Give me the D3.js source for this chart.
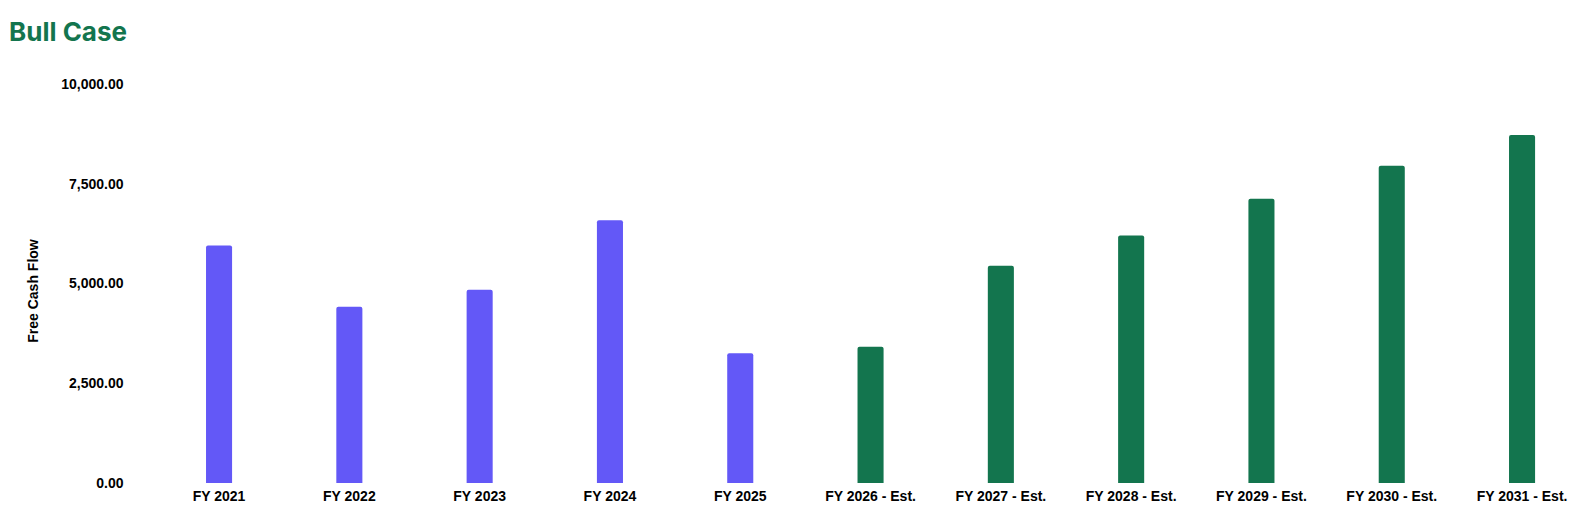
<!DOCTYPE html>
<html>
<head>
<meta charset="utf-8">
<script src="https://cdn.jsdelivr.net/npm/d3@7"></script>
<style>
  html, body { margin: 0; padding: 0; background: #fff; }
  svg { display: block; }
</style>
</head>
<body>
<svg id="chart" width="1578" height="522"></svg>
<script>
const categories = ["FY 2021", "FY 2022", "FY 2023", "FY 2024", "FY 2025",
  "FY 2026 - Est.", "FY 2027 - Est.", "FY 2028 - Est.", "FY 2029 - Est.", "FY 2030 - Est.", "FY 2031 - Est."];
const values = [5950, 4420, 4845, 6585, 3250, 3415, 5445, 6200, 7125, 7950, 8720];
const isEstimate = [false, false, false, false, false, true, true, true, true, true, true];
const yTicks = [0, 2500, 5000, 7500, 10000];
const title = "Bull Case";
const yTitle = "Free Cash Flow";

const W = 1578, H = 522;
const svg = d3.select("#chart");
const font = "'Liberation Sans', Arial, Helvetica, sans-serif";
const fs = 14;

const x = d3.scaleBand().domain(categories)
  .range([153.9, 1587.2]).paddingInner(0.8).paddingOuter(0.4);
const y = d3.scaleLinear().domain([0, 10000]).range([483, 84]);

// title
svg.append("text").attr("x", 9).attr("y", 41)
  .attr("font-family", "Inter, 'Open Sans', sans-serif")
  .attr("font-weight", 700).attr("font-size", 26)
  .attr("fill", "#13754E").text(title);

// y axis
const yAxis = svg.append("g").attr("transform", "translate(123.5,0)")
  .call(d3.axisLeft(y).tickValues(yTicks).tickSize(0).tickPadding(0)
    .tickFormat(d3.format(",.2f")));
yAxis.select(".domain").remove();
yAxis.selectAll("text").attr("font-family", font).attr("font-weight", 700)
  .attr("font-size", fs).attr("fill", "#000");

// y title
svg.append("text").attr("transform", "translate(38,291) rotate(-90)")
  .attr("text-anchor", "middle").attr("font-family", font)
  .attr("font-weight", 700).attr("font-size", fs).attr("fill", "#000")
  .text(yTitle);

// x axis
const xAxis = svg.append("g").attr("transform", `translate(0,${y(0)})`)
  .call(d3.axisBottom(x).tickSize(0).tickPadding(8));
xAxis.select(".domain").remove();
xAxis.selectAll("text").attr("font-family", font).attr("font-weight", 700)
  .attr("font-size", fs).attr("fill", "#000");

// bars with rounded top corners
const r = 2;
function barPath(d, i) {
  const x0 = x(categories[i]), w = x.bandwidth();
  const yt = y(d), yb = y(0);
  return `M${x0},${yb} L${x0},${yt + r} Q${x0},${yt} ${x0 + r},${yt} L${x0 + w - r},${yt} Q${x0 + w},${yt} ${x0 + w},${yt + r} L${x0 + w},${yb} Z`;
}
svg.append("g").selectAll("path").data(values).join("path")
  .attr("d", barPath)
  .attr("fill", (d, i) => isEstimate[i] ? "#13754E" : "#6358F7");
</script>
</body>
</html>
